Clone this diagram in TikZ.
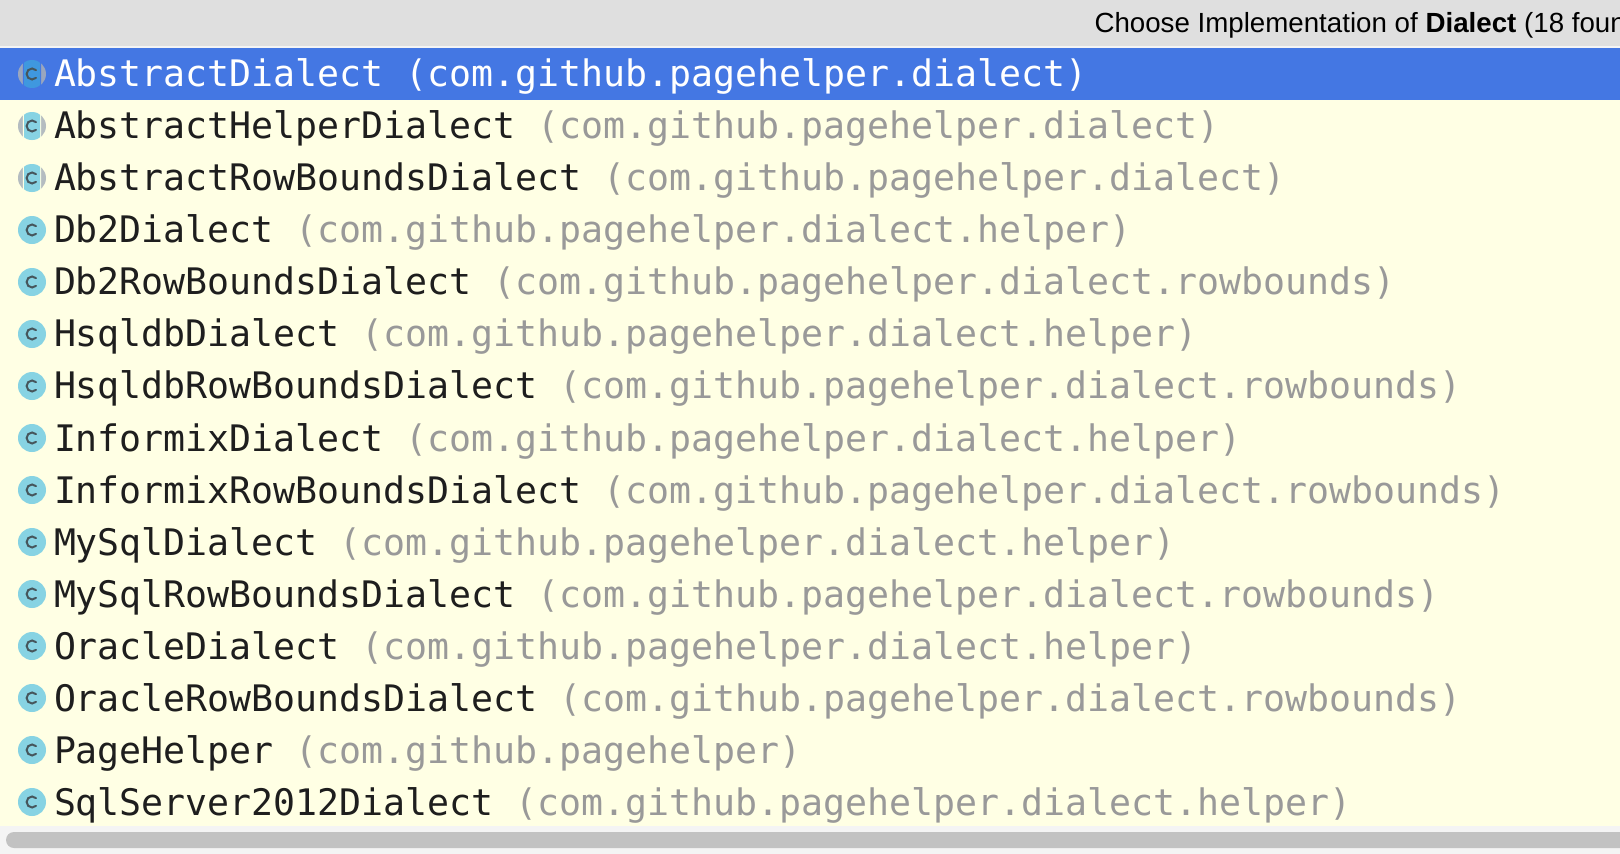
\documentclass[tikz,border=0pt]{standalone}
\usepackage{fontspec}
\setmonofont{DejaVu Sans Mono}
\setmainfont{Liberation Sans}
\definecolor{headbg}{HTML}{DFDFDF}
\definecolor{selbg}{HTML}{4477E3}
\definecolor{listbg}{HTML}{FFFFE4}
\definecolor{barbg}{HTML}{F4F4F4}
\definecolor{thumb}{HTML}{C2C2C2}
\definecolor{pkggray}{HTML}{999999}
\definecolor{namedark}{HTML}{1E1E1E}
\definecolor{iconcyan}{HTML}{87D3E3}
\definecolor{icongray}{HTML}{B4BCC0}
\definecolor{iconselblue}{HTML}{3F98DF}
\definecolor{iconselgray}{HTML}{9AA6BE}
\definecolor{cdark}{HTML}{46565C}
\tikzset{
  x=1pt,y=-1pt,
  rowtext/.style={anchor=base west,inner sep=0pt,outer sep=0pt,
    font=\ttfamily\fontsize{36.54}{44}\selectfont,text=namedark},
  headtext/.style={anchor=base west,inner sep=0pt,outer sep=0pt,
    font=\fontsize{27.7}{30}\selectfont,text=black},
  cglyph/.style={draw=cdark,line width=2pt,line cap=round},
}
\newcommand{\cmark}[1]{%
  \draw[cglyph] (36,#1-3.9) arc[start angle=-45,end angle=-315,radius=5.5];
}
% #1 icon centre y, #2 crescent colour, #3 gap colour, #4 band colour
\newcommand{\splitcircle}[4]{%
  \fill[#2] (32,#1) circle[radius=14];
  \begin{scope}
    \clip (22.8,#1-15) rectangle (41.2,#1+15);
    \fill[#3] (32,#1) circle[radius=14.5];
  \end{scope}
  \begin{scope}
    \clip (24,#1-15) rectangle (40,#1+15);
    \fill[#4] (32,#1) circle[radius=14];
  \end{scope}
  \cmark{#1}
}
% #1 row centre y, #2 name-id, #3 class, #4 package
\newcommand{\rowlabel}[3]{%
  \node[rowtext] (#2) at (54,{(#1-74)*1.00055+86.8}) {#3};
}
\newcommand{\plainrow}[4]{%
  \fill[iconcyan] (32,#1) circle[radius=14];
  \cmark{#1}
  \rowlabel{#1}{#2}{#3 \textcolor{pkggray}{(#4)}}
}
\newcommand{\abstractrow}[4]{%
  \splitcircle{#1}{icongray}{listbg}{iconcyan}
  \rowlabel{#1}{#2}{#3 \textcolor{pkggray}{(#4)}}
}
\begin{document}
\begin{tikzpicture}
\useasboundingbox (0,0) rectangle (1620,854);
\clip (0,0) rectangle (1620,854);
\fill[barbg] (0,0) rectangle (1620,854);
\fill[headbg] (0,0) rectangle (1620,46);
\fill[listbg] (0,48) rectangle (1620,826);
\fill[selbg] (0,48) rectangle (1620,100);
\fill[thumb,rounded corners=8] (6,832) rectangle (1640,848);
\node[headtext] (title) at (1094.5,32) {Choose Implementation of \textbf{Dialect} (18 foun};
% selected row
\splitcircle{74}{iconselgray}{selbg}{iconselblue}
\rowlabel{74}{r0}{\textcolor{white}{AbstractDialect (com.github.pagehelper.dialect)}}
\abstractrow{126}{r1}{AbstractHelperDialect}{com.github.pagehelper.dialect}
\abstractrow{178}{r2}{AbstractRowBoundsDialect}{com.github.pagehelper.dialect}
\plainrow{230}{r3}{Db2Dialect}{com.github.pagehelper.dialect.helper}
\plainrow{282}{r4}{Db2RowBoundsDialect}{com.github.pagehelper.dialect.rowbounds}
\plainrow{334}{r5}{HsqldbDialect}{com.github.pagehelper.dialect.helper}
\plainrow{386}{r6}{HsqldbRowBoundsDialect}{com.github.pagehelper.dialect.rowbounds}
\plainrow{438}{r7}{InformixDialect}{com.github.pagehelper.dialect.helper}
\plainrow{490}{r8}{InformixRowBoundsDialect}{com.github.pagehelper.dialect.rowbounds}
\plainrow{542}{r9}{MySqlDialect}{com.github.pagehelper.dialect.helper}
\plainrow{594}{r10}{MySqlRowBoundsDialect}{com.github.pagehelper.dialect.rowbounds}
\plainrow{646}{r11}{OracleDialect}{com.github.pagehelper.dialect.helper}
\plainrow{698}{r12}{OracleRowBoundsDialect}{com.github.pagehelper.dialect.rowbounds}
\plainrow{750}{r13}{PageHelper}{com.github.pagehelper}
\plainrow{802}{r14}{SqlServer2012Dialect}{com.github.pagehelper.dialect.helper}
\end{tikzpicture}
\end{document}
